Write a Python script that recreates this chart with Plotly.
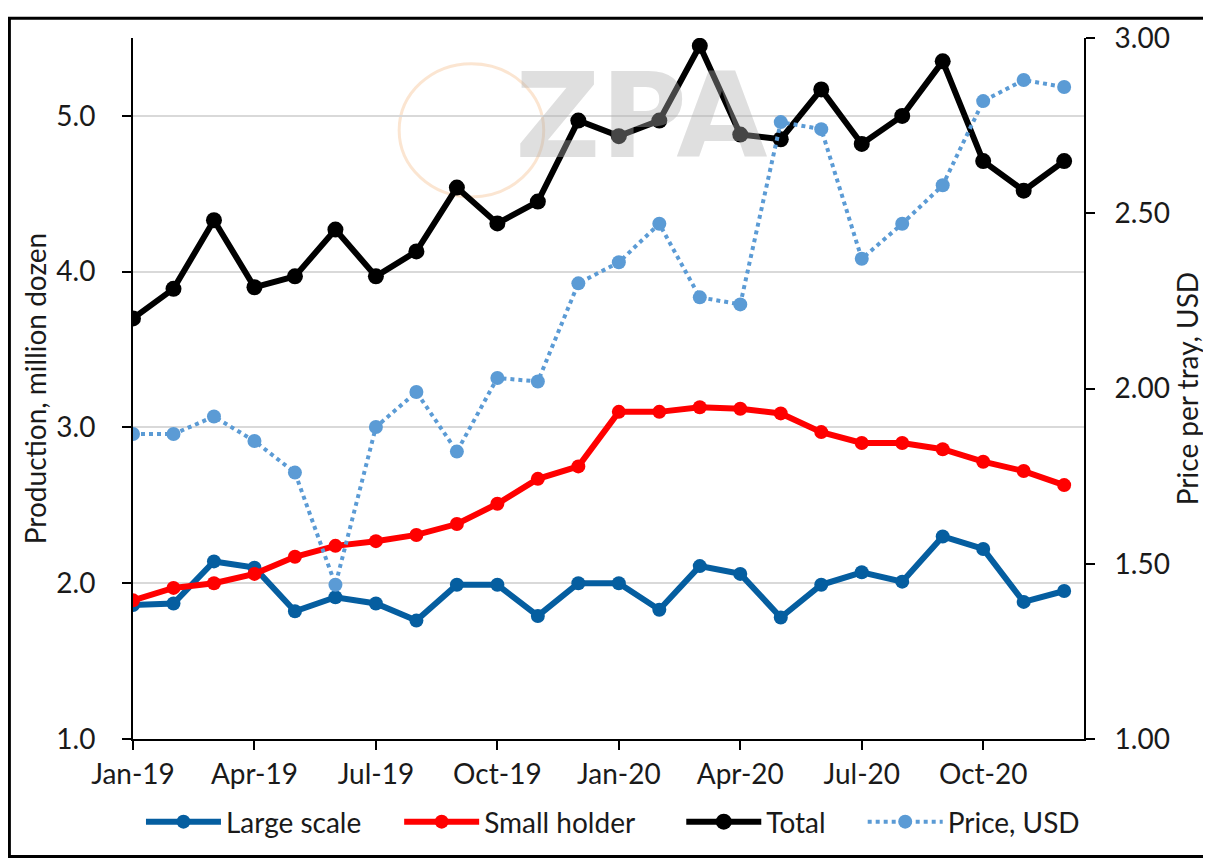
import plotly.graph_objects as go

months = ["Jan-19", "Feb-19", "Mar-19", "Apr-19", "May-19", "Jun-19", "Jul-19", "Aug-19",
          "Sep-19", "Oct-19", "Nov-19", "Dec-19", "Jan-20", "Feb-20", "Mar-20", "Apr-20",
          "May-20", "Jun-20", "Jul-20", "Aug-20", "Sep-20", "Oct-20", "Nov-20", "Dec-20"]

large_scale = [1.86, 1.87, 2.14, 2.10, 1.82, 1.91, 1.87, 1.76, 1.99, 1.99, 1.79, 2.00,
               2.00, 1.83, 2.11, 2.06, 1.78, 1.99, 2.07, 2.01, 2.30, 2.22, 1.88, 1.95]
small_holder = [1.89, 1.97, 2.00, 2.06, 2.17, 2.24, 2.27, 2.31, 2.38, 2.51, 2.67, 2.75,
                3.10, 3.10, 3.13, 3.12, 3.09, 2.97, 2.90, 2.90, 2.86, 2.78, 2.72, 2.63]
total = [3.70, 3.89, 4.33, 3.90, 3.97, 4.27, 3.97, 4.13, 4.54, 4.31, 4.45, 4.97,
         4.87, 4.97, 5.45, 4.88, 4.85, 5.17, 4.82, 5.00, 5.35, 4.71, 4.52, 4.71]
price = [1.87, 1.87, 1.92, 1.85, 1.76, 1.44, 1.89, 1.99, 1.82, 2.03, 2.02, 2.30,
         2.36, 2.47, 2.26, 2.24, 2.76, 2.74, 2.37, 2.47, 2.58, 2.82, 2.88, 2.86]

tick_idx = [0, 3, 6, 9, 12, 15, 18, 21]
tick_labels = [months[i] for i in tick_idx]

x = list(range(len(months)))
FONT = "Lato"
FS = 28

fig = go.Figure()
fig.add_trace(go.Scatter(x=x, y=large_scale, name="Large scale", mode="lines+markers",
                         line=dict(color="#055EA0", width=6), legend="legend",
                         marker=dict(size=14, color="#055EA0")))
fig.add_trace(go.Scatter(x=x, y=small_holder, name="Small holder", mode="lines+markers",
                         line=dict(color="#FF0000", width=6), legend="legend2",
                         marker=dict(size=14, color="#FF0000")))
fig.add_trace(go.Scatter(x=x, y=total, name="Total", mode="lines+markers",
                         line=dict(color="#000000", width=6), legend="legend3",
                         marker=dict(size=16, color="#000000")))
fig.add_trace(go.Scatter(x=x, y=price, name="Price, USD", mode="lines+markers", yaxis="y2",
                         line=dict(color="#5B9BD5", width=4, dash="dot"), legend="legend4",
                         marker=dict(size=14, color="#5B9BD5")))

OFF = 8  # page body margin
W, H = 1211 - OFF, 861 - OFF
L, R, T, B = 133 - OFF, 1087 - OFF, 29 - OFF, 739 - OFF
pw, ph = R - L, B - T

def px(xp):
    return (xp - OFF - L) / pw

def py(yp):
    return (B - (yp - OFF)) / ph

def leg(xpos):
    return dict(orientation="h", x=px(xpos), xanchor="left", y=py(823), yanchor="middle",
                font=dict(size=FS, family=FONT), itemwidth=75,
                bgcolor="rgba(0,0,0,0)")

fig.update_layout(
    width=W, height=H,
    margin=dict(l=L, r=W - R, t=T, b=H - B),
    paper_bgcolor="white", plot_bgcolor="white",
    font=dict(family=FONT, size=FS, color="#1a1a1a"),
    showlegend=True,
    legend=leg(141), legend2=leg(400), legend3=leg(683), legend4=leg(865),
    xaxis=dict(range=[0, 23.49], tickmode="array", tickvals=tick_idx, ticktext=tick_labels,
               showgrid=False, zeroline=False, showline=True, linecolor="black", linewidth=2,
               ticks="outside", ticklen=9, tickwidth=2, tickcolor="black",
               tickfont=dict(size=FS, family=FONT)),
    yaxis=dict(range=[1, 5.5], dtick=1, tickformat=".1f", showgrid=True,
               gridcolor="#D9D9D9", gridwidth=2, zeroline=False, showline=True,
               linecolor="black", linewidth=2, ticks="outside", ticklen=9, tickwidth=2,
               tickcolor="black", tickfont=dict(size=FS, family=FONT),
               ticklabelstandoff=21,
               title=dict(text="Production, million dozen", font=dict(size=FS, family=FONT),
                          standoff=2)),
    yaxis2=dict(range=[1, 3], dtick=0.5, tickformat=".2f", overlaying="y", side="right",
                showgrid=False, zeroline=False, showline=True, linecolor="black", linewidth=2,
                ticks="outside", ticklen=9, tickwidth=2, tickcolor="black",
                tickfont=dict(size=FS, family=FONT), ticklabelstandoff=14,
                title=dict(text="Price per tray, USD", font=dict(size=FS, family=FONT),
                           standoff=9)),
)

# watermark
fig.add_annotation(xref="paper", yref="paper", x=px(643), y=py(108), text="<b>ZPA</b>",
                   showarrow=False,
                   font=dict(size=118, family="DejaVu Sans", color="rgba(175,175,175,0.40)"),
                   xanchor="center", yanchor="middle")
fig.add_shape(type="circle", xref="paper", yref="paper", layer="below",
              x0=px(400), x1=px(545), y0=py(190), y1=py(55),
              line=dict(color="rgba(245,190,140,0.4)", width=3))

# outer border
fig.add_shape(type="rect", xref="paper", yref="paper",
              x0=px(9), x1=px(1208), y0=py(858), y1=py(9),
              line=dict(color="black", width=3), fillcolor="rgba(0,0,0,0)")

fig.write_html("out.html")
